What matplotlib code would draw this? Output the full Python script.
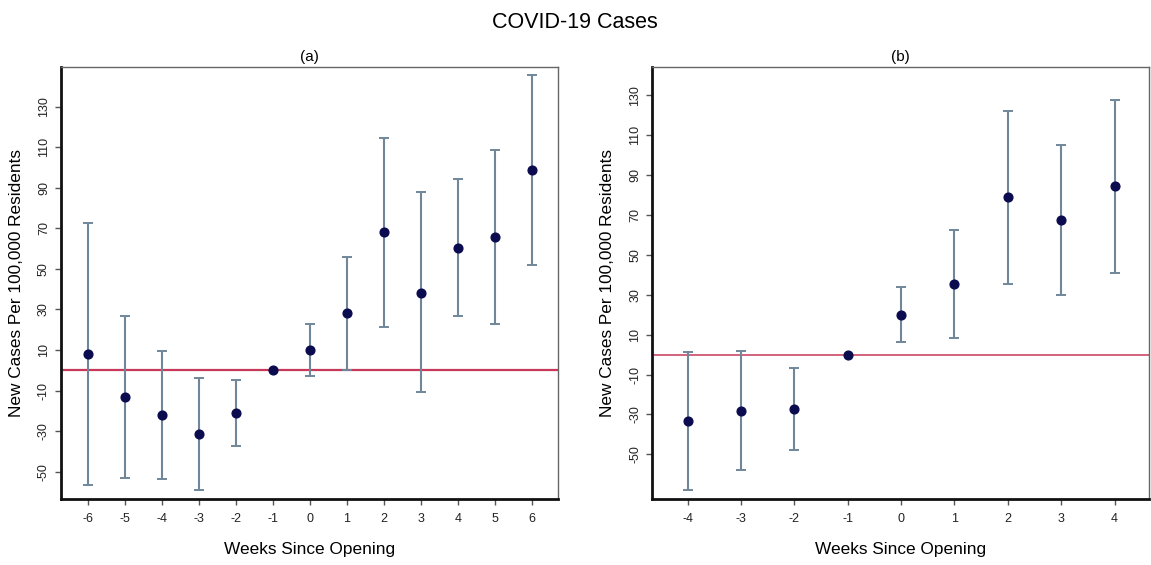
import numpy as np
import matplotlib
matplotlib.use('Agg')
import matplotlib.pyplot as plt

plt.rcParams['font.family'] = ['Liberation Sans', 'DejaVu Sans']
plt.rcParams['axes.unicode_minus'] = False

# Panel (a): weeks -6..6
weeks_a = [-6, -5, -4, -3, -2, -1, 0, 1, 2, 3, 4, 5, 6]
est_a = [7.9, -13.2, -22.0, -31.4, -21.2, 0.0, 10.0, 28.1, 68.0, 38.2, 60.4, 65.7, 98.7]
lo_a = [-56.3, -52.9, -53.4, -58.8, -37.3, 0.0, -2.6, 0.2, 21.2, -10.8, 26.7, 22.8, 51.9]
hi_a = [72.4, 26.9, 9.5, -4.0, -5.0, 0.0, 22.7, 55.8, 114.6, 87.9, 94.4, 108.7, 145.5]

# Panel (b): weeks -4..4
weeks_b = [-4, -3, -2, -1, 0, 1, 2, 3, 4]
est_b = [-33.3, -28.1, -27.2, 0.0, 19.9, 35.3, 78.9, 67.6, 84.4]
lo_b = [-68.1, -58.0, -47.8, 0.0, 6.2, 8.5, 35.3, 29.7, 40.8]
hi_b = [1.3, 1.8, -6.5, 0.0, 33.9, 62.3, 122.3, 105.3, 127.8]

ytick_vals = [-50, -30, -10, 10, 30, 50, 70, 90, 110, 130]

fig = plt.figure(figsize=(11.51, 5.65), dpi=100)
fig.patch.set_facecolor('white')


def draw_panel(ax, weeks, est, lo, hi, xlim, ylim, title, zero_lw):
    est = np.array(est)
    lo = np.array(lo)
    hi = np.array(hi)
    ax.axhline(0, color='#c8385a', lw=zero_lw, zorder=1)
    # reference week (-1) has no interval
    has_ci = hi > lo
    w = np.array(weeks)
    ax.errorbar(w[has_ci], est[has_ci],
                yerr=[est[has_ci] - lo[has_ci], hi[has_ci] - est[has_ci]],
                fmt='none', ecolor='#6f8799', elinewidth=1.5,
                capsize=3.6, capthick=1.4, zorder=2)
    ax.plot(w, est, 'o', color='#0b0b4f', markersize=6.3, zorder=3)

    ax.set_xlim(*xlim)
    ax.set_ylim(*ylim)
    ax.set_xticks(weeks)
    ax.set_yticks(ytick_vals)
    ax.set_yticklabels([str(v) for v in ytick_vals], rotation=90, va='center')
    ax.tick_params(axis='both', direction='out', length=4, width=1,
                   color='#555555', labelsize=9, labelcolor='#222222')
    ax.tick_params(axis='x', pad=6)
    ax.tick_params(axis='y', pad=4)

    for side in ['left', 'bottom']:
        ax.spines[side].set_color('#111111')
        ax.spines[side].set_linewidth(2.0)
    for side in ['top', 'right']:
        ax.spines[side].set_color('#666666')
        ax.spines[side].set_linewidth(1.0)

    ax.set_title(title, fontsize=11, pad=4)
    ax.set_xlabel('Weeks Since Opening', fontsize=12.4, labelpad=12)
    ax.set_ylabel('New Cases Per 100,000 Residents', fontsize=12.4, labelpad=10)


ax_a = fig.add_axes([0.0530, 0.1168, 0.4318, 0.7651])
draw_panel(ax_a, weeks_a, est_a, lo_a, hi_a, (-6.73, 6.71), (-63.4, 149.6), '(a)', 1.6)

ax_b = fig.add_axes([0.5667, 0.1168, 0.4318, 0.7651])
draw_panel(ax_b, weeks_b, est_b, lo_b, hi_b, (-4.66, 4.65), (-72.4, 144.3), '(b)', 1.1)

fig.text(0.4996, 0.978, 'COVID-19 Cases', ha='center', va='top', fontsize=15.5)

fig.savefig('out.png', dpi=100)
